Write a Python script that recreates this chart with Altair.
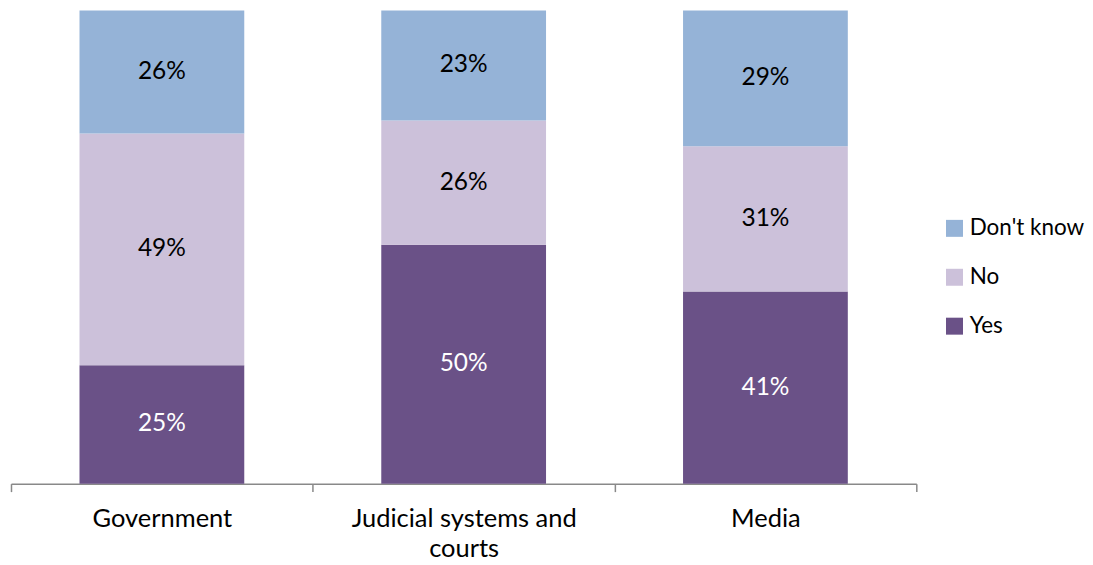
import altair as alt
import pandas as pd

categories = ["Government", "Judicial systems and courts", "Media"]
responses = ["Yes", "No", "Don't know"]
yes_vals = [25, 50, 41]
no_vals = [49, 26, 31]
dk_vals = [26, 23, 29]

rows = []
for i, c in enumerate(categories):
    for j, (r, v) in enumerate(zip(responses, [yes_vals[i], no_vals[i], dk_vals[i]])):
        rows.append({"cat": c, "resp": r, "value": v, "ord": j})
df = pd.DataFrame(rows)

FONT = "Lato"

base = alt.Chart(df).transform_stack(
    stack="value", groupby=["cat"], sort=[{"field": "ord", "order": "ascending"}],
    as_=["y0", "y1"], offset="normalize"
).transform_calculate(mid="(datum.y0 + datum.y1) / 2", lab="datum.value + '%'")

xscale = alt.Scale(paddingInner=0, paddingOuter=0)

xenc = alt.X(
    "cat:N", sort=categories, title=None, scale=xscale,
    axis=alt.Axis(
        tickBand="extent", domainColor="#898989", tickColor="#898989", tickSize=8,
        labelAngle=0, labelFontSize=25.5, labelFont=FONT, labelColor="#000000",
        labelPadding=15, labelLimit=400, domainWidth=1.5, tickWidth=1.5,
        labelExpr="datum.label == 'Judicial systems and courts' ? ['Judicial systems and', 'courts'] : datum.label",
        labelLineHeight=30,
    ),
)

bars = base.mark_bar(width=alt.RelativeBandSize(0.546)).encode(
    x=xenc,
    y=alt.Y("y0:Q", axis=None, scale=alt.Scale(domain=[0, 1])),
    y2="y1:Q",
    color=alt.Color(
        "resp:N",
        scale=alt.Scale(domain=["Don't know", "No", "Yes"], range=["#95B3D7", "#CCC1DA", "#6A5187"]),
        title=None,
        legend=alt.Legend(
            orient="none", legendX=934, legendY=207, symbolType="square", symbolSize=289,
            labelFontSize=22.5, labelFont=FONT, labelColor="#000000", rowPadding=26,
            symbolStrokeWidth=0, labelOffset=4, padding=0,
        ),
    ),
)

text = base.mark_text(fontSize=24.5, font=FONT).encode(
    x=alt.X("cat:N", sort=categories),
    y=alt.Y("mid:Q"),
    text="lab:N",
    color=alt.condition("datum.resp == 'Yes'", alt.value("#FFFFFF"), alt.value("#000000")),
)

chart = alt.layer(bars, text).properties(
    width=907, height=474, padding={"left": 2, "top": 2, "right": 0, "bottom": 0}
).configure_view(stroke=None)

chart.save("out.html", embed_options={"renderer": "svg", "actions": False})
